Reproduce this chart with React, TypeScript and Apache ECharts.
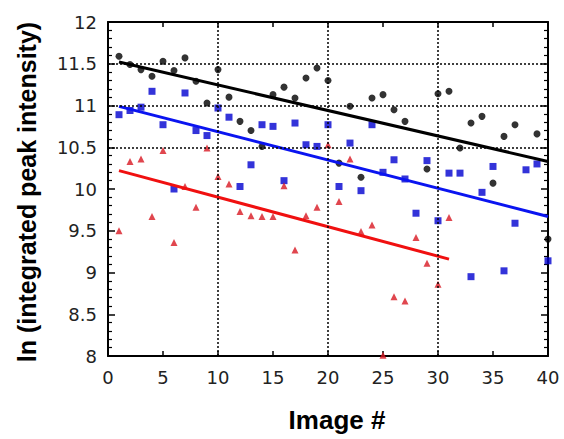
import React, { useEffect, useRef } from "react";
import * as echarts from "echarts";

// Image # vs ln(integrated peak intensity)
const blackPoints: [number, number][] = [
  [1, 11.59], [2, 11.49], [3, 11.43], [4, 11.35], [5, 11.53], [6, 11.42], [7, 11.57],
  [8, 11.29], [9, 11.03], [10, 11.43], [11, 11.1], [12, 10.81], [13, 10.7], [14, 10.51],
  [15, 11.13], [16, 11.22], [17, 11.09], [18, 11.33], [19, 11.45], [20, 11.3], [21, 10.31],
  [22, 10.99], [23, 10.14], [24, 11.09], [25, 11.13], [26, 10.95], [27, 10.81], [29, 10.24],
  [30, 11.14], [31, 11.17], [32, 10.49], [33, 10.79], [34, 10.87], [35, 10.07], [36, 10.63],
  [37, 10.77], [39, 10.66], [40, 9.4],
];

const bluePoints: [number, number][] = [
  [1, 10.89], [2, 10.94], [3, 10.98], [4, 11.17], [5, 10.77], [6, 10.0], [7, 11.15],
  [8, 10.7], [9, 10.64], [10, 10.97], [11, 10.86], [12, 10.03], [13, 10.29], [14, 10.77],
  [15, 10.75], [16, 10.1], [17, 10.79], [18, 10.53], [19, 10.51], [20, 10.77], [21, 10.03],
  [22, 10.55], [23, 9.98], [24, 10.77], [25, 10.2], [26, 10.35], [27, 10.12], [28, 9.71],
  [29, 10.34], [30, 9.62], [31, 10.19], [32, 10.19], [33, 8.95], [34, 9.96], [35, 10.27],
  [36, 9.02], [37, 9.59], [38, 10.23], [39, 10.3], [40, 9.14],
];

const redPoints: [number, number][] = [
  [1, 9.5], [2, 10.33], [3, 10.36], [4, 9.67], [5, 10.46], [6, 9.36], [7, 10.03],
  [8, 9.78], [9, 10.49], [10, 10.15], [11, 10.06], [12, 9.73], [13, 9.68], [14, 9.67],
  [15, 9.67], [16, 10.04], [17, 9.27], [18, 9.68], [19, 9.78], [20, 10.53], [21, 9.85],
  [22, 10.36], [23, 9.49], [24, 9.57], [25, 8.01], [26, 8.71], [27, 8.66], [28, 9.42],
  [29, 9.11], [30, 8.86], [31, 9.66],
];

const blackFit: [number, number][] = [[1, 11.52], [40, 10.33]];
const blueFit: [number, number][] = [[1, 10.99], [40, 9.67]];
const redFit: [number, number][] = [[1, 10.22], [31, 9.16]];

const xGridLines = [10, 20, 30];
const yGridLines = [10.5, 11, 11.5];

const xTitle = "Image #";
const yTitle = "ln (integrated peak intensity)";

const labelFont = { fontFamily: "DejaVu Sans", fontSize: 18, color: "#222" };

export default function App() {
  const ref = useRef<HTMLDivElement>(null);
  useEffect(() => {
    if (!ref.current) return;
    const chart = echarts.init(ref.current, null, { renderer: "svg" });
    const axisLine = { show: true, onZero: false, lineStyle: { color: "#000", width: 2 } };
    const xCommon = {
      type: "value" as const,
      min: 0,
      max: 40,
      interval: 5,
      axisLine,
      axisTick: { show: true, inside: true, length: 5, lineStyle: { color: "#000", width: 1.5 } },
      splitLine: { show: false },
    };
    const yCommon = {
      type: "value" as const,
      min: 8,
      max: 12,
      interval: 0.5,
      axisLine,
      axisTick: { show: true, inside: true, length: 7, lineStyle: { color: "#000", width: 1.5 } },
      minorTick: { show: true, splitNumber: 5, length: 4, lineStyle: { color: "#000", width: 1.2 } },
      splitLine: { show: false },
    };
    chart.setOption({
      animation: false,
      backgroundColor: "#fff",
      grid: { left: 108, right: 16, top: 22, bottom: 83 },
      xAxis: [
        { ...xCommon, position: "bottom", axisLabel: { ...labelFont, margin: 12 } },
        { ...xCommon, position: "top", axisLabel: { show: false } },
      ],
      yAxis: [
        { ...yCommon, position: "left", axisLabel: { ...labelFont, margin: 11 } },
        { ...yCommon, position: "right", axisLabel: { show: false } },
      ],
      graphic: [
        {
          type: "text",
          x: 337,
          y: 420,
          style: {
            text: xTitle,
            font: "bold 26px 'Liberation Sans', Arial, sans-serif",
            fill: "#000",
            textAlign: "center",
            textVerticalAlign: "middle",
            align: "center",
            verticalAlign: "middle",
          },
        },
        {
          type: "text",
          x: 27,
          y: 192,
          rotation: Math.PI / 2,
          style: {
            text: yTitle,
            font: "bold 25px 'Liberation Sans', Arial, sans-serif",
            fill: "#000",
            textAlign: "center",
            textVerticalAlign: "middle",
            align: "center",
            verticalAlign: "middle",
          },
        },
      ],
      series: [
        {
          type: "line",
          data: [],
          markLine: {
            silent: true,
            symbol: "none",
            label: { show: false },
            lineStyle: { color: "#000", width: 1.5, type: [2, 2] },
            data: [
              ...xGridLines.map((x) => ({ xAxis: x })),
              ...yGridLines.map((y) => ({ yAxis: y })),
            ],
          },
        },
        {
          type: "scatter",
          data: blackPoints,
          symbol: "circle",
          symbolSize: 7,
          itemStyle: { color: "#000" },
        },
        {
          type: "scatter",
          data: bluePoints,
          symbol: "rect",
          symbolSize: 7,
          itemStyle: { color: "#0000d0" },
        },
        {
          type: "scatter",
          data: redPoints,
          symbol: "triangle",
          symbolSize: 7,
          itemStyle: { color: "#d81822" },
        },
        {
          type: "line",
          data: blackFit,
          symbol: "none",
          lineStyle: { color: "#000", width: 3 },
        },
        {
          type: "line",
          data: blueFit,
          symbol: "none",
          lineStyle: { color: "#0a14f0", width: 3 },
        },
        {
          type: "line",
          data: redFit,
          symbol: "none",
          lineStyle: { color: "#f01010", width: 3 },
        },
      ],
    });
    return () => chart.dispose();
  }, []);
  return <div ref={ref} style={{ width: 564, height: 439, position: "absolute", left: 0, top: 0 }} />;
}
